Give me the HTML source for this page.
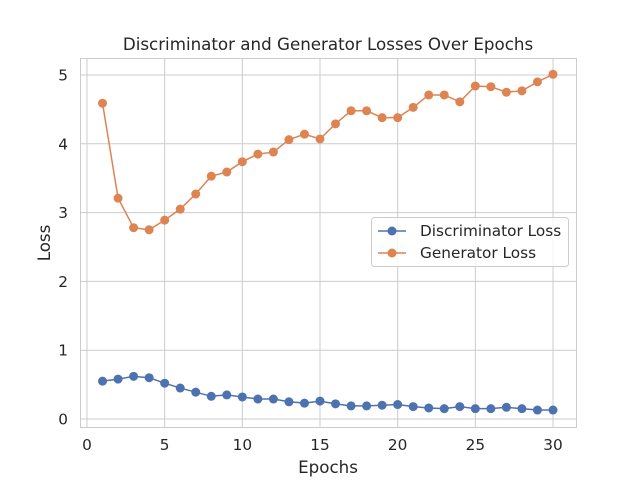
<!DOCTYPE html>
<html><head><meta charset="utf-8"><style>
body{margin:0;background:#fff;font-family:"DejaVu Sans","Liberation Sans",sans-serif;}
svg text{font-family:"DejaVu Sans","Liberation Sans",sans-serif;fill:#262626;}
</style></head><body>
<svg id="chart" width="640" height="480" xmlns="http://www.w3.org/2000/svg">
<rect x="0" y="0" width="640" height="480" fill="#fff"/>
<g id="grid"></g>
<rect x="80.5" y="58.5" width="496" height="369" fill="none" stroke="#cccccc" stroke-width="1"/>
<g id="marks"></g>
<g id="ticks"></g>
<text x="328" y="50" font-size="16.7" text-anchor="middle">Discriminator and Generator Losses Over Epochs</text>
<text x="328" y="473" font-size="16.7" text-anchor="middle">Epochs</text>
<text x="0" y="0" font-size="16.7" text-anchor="middle" transform="translate(50,243) rotate(-90)">Loss</text>
<g>
<rect x="371.5" y="217.5" width="197" height="49" rx="3" fill="#fff" fill-opacity="0.8" stroke="#cccccc"/>
<g>
<line x1="378" y1="231" x2="406" y2="231" stroke="#4c72b0" stroke-width="1.5"/>
<circle cx="392" cy="231" r="4.5" fill="#4c72b0"/>
<text x="420" y="236" font-size="15.3">Discriminator Loss</text></g>
<g>
<line x1="378" y1="253" x2="406" y2="253" stroke="#dd8452" stroke-width="1.5"/>
<circle cx="392" cy="253" r="4.5" fill="#dd8452"/>
<text x="420" y="258" font-size="15.3">Generator Loss</text></g>
</g>
</svg>
<script>
const epochs=[1,2,3,4,5,6,7,8,9,10,11,12,13,14,15,16,17,18,19,20,21,22,23,24,25,26,27,28,29,30];
const discLoss=[0.55,0.58,0.62,0.6,0.52,0.45,0.39,0.33,0.35,0.32,0.29,0.29,0.25,0.23,0.26,0.22,0.19,0.19,0.2,0.21,0.18,0.16,0.15,0.18,0.15,0.15,0.17,0.15,0.13,0.13];
const genLoss=[4.59,3.21,2.78,2.75,2.89,3.05,3.27,3.53,3.59,3.74,3.85,3.88,4.06,4.14,4.07,4.29,4.48,4.48,4.38,4.38,4.53,4.71,4.71,4.61,4.84,4.83,4.75,4.77,4.9,5.01];
const xTicks=[0,5,10,15,20,25,30];
const yTicks=[0,1,2,3,4,5];
const NS="http://www.w3.org/2000/svg";
function xs(v){return 87+v*(553-87)/30;}
function ys(v){return 419-v*(419-75)/5;}
function mk(tag,attrs,parent){const e=document.createElementNS(NS,tag);for(const k in attrs)e.setAttribute(k,attrs[k]);parent.appendChild(e);return e;}
const grid=document.getElementById('grid'),ticks=document.getElementById('ticks'),marks=document.getElementById('marks');
xTicks.forEach(t=>{const x=xs(t);
 const g=mk('line',{x1:x,x2:x,y1:58,y2:427,stroke:'#cccccc','stroke-width':1},grid);
 
 
 const l=mk('text',{x:x,y:450,'font-size':15.3,'text-anchor':'middle'},ticks);l.textContent=t;
 
 });
yTicks.forEach(t=>{const y=ys(t);
 const g=mk('line',{x1:80,x2:576,y1:y,y2:y,stroke:'#cccccc','stroke-width':1},grid);
 
 
 const l=mk('text',{x:68,y:y+5.5,'font-size':15.3,'text-anchor':'end'},ticks);l.textContent=t;
 
 });
function series(vals,color,name){
 const pts=vals.map((v,i)=>xs(epochs[i])+','+ys(v)).join(' ');
 const p=mk('polyline',{points:pts,fill:'none',stroke:color,'stroke-width':1.5},marks);
 
 
 vals.forEach((v,i)=>{const c=mk('circle',{cx:xs(epochs[i]),cy:ys(v),r:4.5,fill:color},marks);
  
  });
}
series(discLoss,'#4c72b0','discriminator-loss');
series(genLoss,'#dd8452','generator-loss');
</script>
</body></html>
